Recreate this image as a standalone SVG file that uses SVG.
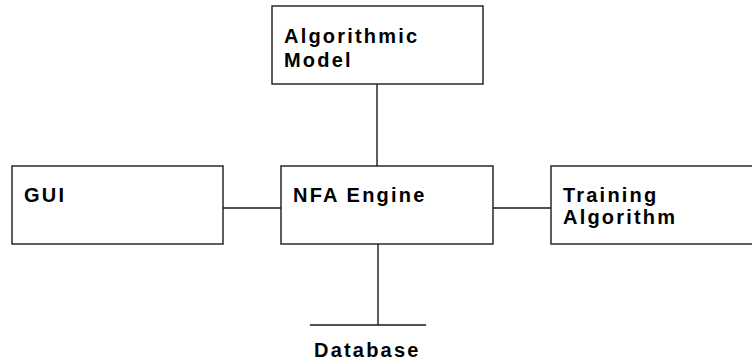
<svg xmlns="http://www.w3.org/2000/svg" width="752" height="364" viewBox="0 0 752 364">
<style>
.box{fill:#fff;stroke:#1a1a1a;stroke-width:1.4}
.ln{stroke:#1a1a1a;stroke-width:1.4;fill:none}
.t{font-family:"Liberation Sans",Arial,sans-serif;font-weight:bold;font-size:20px;letter-spacing:2.2px;fill:#000}
</style>
<rect width="752" height="364" fill="#fff"/>
<g id="connectors">
<line class="ln" x1="377" y1="84" x2="377" y2="166"/>
<line class="ln" x1="223" y1="208" x2="281" y2="208"/>
<line class="ln" x1="493" y1="208" x2="551" y2="208"/>
<line class="ln" x1="378" y1="244" x2="378" y2="325"/>
</g>
<g id="algorithmic-model">
<rect class="box" x="272" y="6" width="211" height="78"/>
<text class="t" x="284" y="43">Algorithmic</text>
<text class="t" x="284" y="67">Model</text>
</g>
<g id="gui">
<rect class="box" x="12" y="166" width="211" height="78"/>
<text class="t" x="24" y="202">GUI</text>
</g>
<g id="nfa-engine">
<rect class="box" x="281" y="166" width="212" height="78"/>
<text class="t" x="293" y="202">NFA Engine</text>
</g>
<g id="training-algorithm">
<rect class="box" x="551" y="166" width="210" height="78"/>
<text class="t" x="563" y="202">Training</text>
<text class="t" x="563" y="224">Algorithm</text>
</g>
<g id="database">
<line class="ln" x1="310" y1="325" x2="426" y2="325"/>
<text class="t" x="314" y="357">Database</text>
</g>
</svg>
